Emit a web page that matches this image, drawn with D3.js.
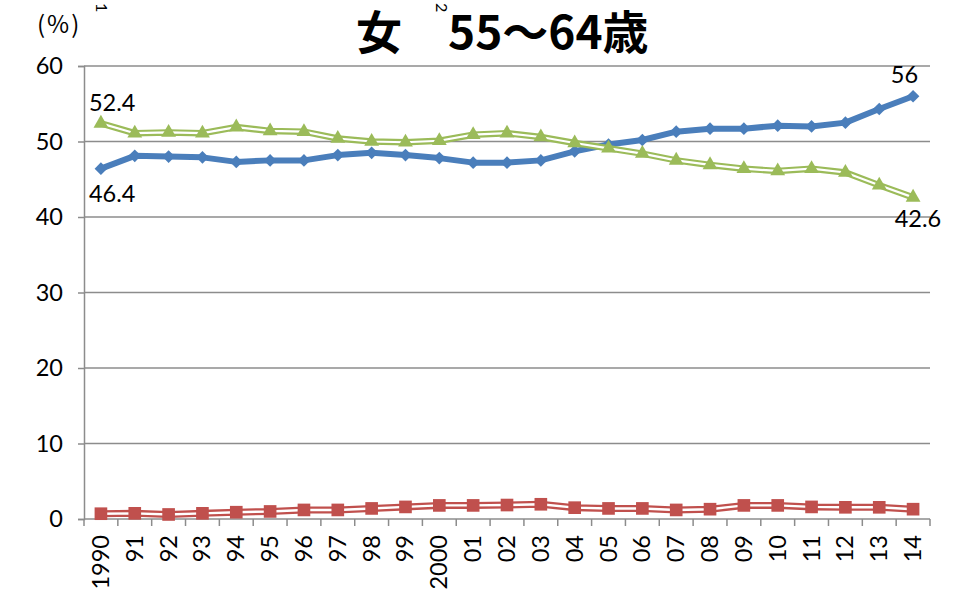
<!DOCTYPE html>
<html><head><meta charset="utf-8">
<script src="https://cdn.jsdelivr.net/npm/d3@7/dist/d3.min.js"></script>
<style>
html,body{margin:0;padding:0;background:#fff;}
svg{display:block;}
</style></head>
<body>
<svg id="chart" width="966" height="589"></svg>
<script>
const categories = ["1990","91","92","93","94","95","96","97","98","99","2000","01","02","03","04","05","06","07","08","09","10","11","12","13","14"];
const blueValues  = [46.4,48.1,48.0,47.9,47.3,47.5,47.5,48.2,48.5,48.2,47.8,47.2,47.2,47.5,48.7,49.6,50.2,51.3,51.7,51.7,52.1,52.0,52.5,54.3,56.0];
const greenValues = [52.4,51.1,51.2,51.1,51.9,51.4,51.3,50.4,50.0,49.9,50.1,50.9,51.1,50.6,49.8,49.1,48.4,47.5,46.9,46.4,46.1,46.4,45.9,44.2,42.6];
const redValues   = [0.7,0.75,0.6,0.75,0.9,1.0,1.2,1.2,1.4,1.6,1.8,1.8,1.85,1.95,1.5,1.4,1.4,1.2,1.3,1.8,1.8,1.6,1.55,1.55,1.3];
const yTicks = [0,10,20,30,40,50,60];
const titleText = "女　55～64歳";
const unitText = "(%)";

const svg = d3.select("#chart");
const L = 84, R = 930, T = 66, B = 519;
const x = d3.scaleBand().domain(categories).range([L, R]).paddingInner(0).paddingOuter(0);
const y = d3.scaleLinear().domain([0, 60]).range([B, T]);
const cx = d => x(d) + x.bandwidth() / 2;
const gridColor = "#8c8c8c";
const numFont = "Lato, 'Open Sans', sans-serif";
const fs = 23.5;

// gridlines
svg.append("g").selectAll("line").data(yTicks.filter(v => v > 0)).join("line")
  .attr("x1", L).attr("x2", R).attr("y1", d => y(d)).attr("y2", d => y(d))
  .attr("stroke", gridColor).attr("stroke-width", 1.5);

// y axis
const yAxis = svg.append("g").attr("transform", `translate(${L},0)`)
  .call(d3.axisLeft(y).tickValues(yTicks).tickSize(6).tickPadding(6));
yAxis.select(".domain").attr("stroke", gridColor).attr("stroke-width", 1.5);
yAxis.selectAll(".tick line").attr("stroke", gridColor).attr("stroke-width", 1.5);
yAxis.selectAll(".tick text").attr("font-family", numFont).attr("font-size", fs).attr("fill", "#000").attr("dx", "-9");

// x axis
const xg = svg.append("g").attr("transform", `translate(0,${B})`);
xg.append("line").attr("x1", L).attr("x2", R).attr("y1", 0).attr("y2", 0)
  .attr("stroke", gridColor).attr("stroke-width", 1.5);
const bounds = categories.map(d => x(d)).concat([R]);
xg.selectAll("line.tk").data(bounds).join("line").attr("class", "tk")
  .attr("x1", d => d).attr("x2", d => d).attr("y1", 0).attr("y2", 7)
  .attr("stroke", gridColor).attr("stroke-width", 1.5);
xg.selectAll("text").data(categories).join("text")
  .attr("transform", d => `translate(${cx(d) + 8},${16}) rotate(-90)`)
  .attr("text-anchor", "end")
  .attr("font-family", numFont).attr("font-size", fs).attr("fill", "#000")
  .text(d => d);

const line = d3.line().x((d, i) => cx(categories[i])).y(d => y(d));

// blue series
const blue = "#4a7ebb";
svg.append("path").datum(blueValues).attr("d", line).attr("fill", "none")
  .attr("stroke", blue).attr("stroke-width", 6).attr("stroke-linejoin", "round");
svg.append("g").selectAll("path").data(blueValues).join("path")
  .attr("d", d3.symbol().type(d3.symbolSquare).size(80))
  .attr("transform", (d, i) => `translate(${cx(categories[i])},${y(d)}) rotate(45)`)
  .attr("fill", blue);

// red series (double line)
const red = "#c0504d";
svg.append("path").datum(redValues).attr("d", line).attr("fill", "none")
  .attr("stroke", red).attr("stroke-width", 7);
svg.append("path").datum(redValues).attr("d", line).attr("fill", "none")
  .attr("stroke", "#fff").attr("stroke-width", 2.4);
svg.append("g").selectAll("path").data(redValues).join("path")
  .attr("d", d3.symbol().type(d3.symbolSquare).size(160))
  .attr("transform", (d, i) => `translate(${cx(categories[i])},${y(d)})`)
  .attr("fill", red);

// green series (double line)
const green = "#9bbb59";
svg.append("path").datum(greenValues).attr("d", line).attr("fill", "none")
  .attr("stroke", green).attr("stroke-width", 6.5);
svg.append("path").datum(greenValues).attr("d", line).attr("fill", "none")
  .attr("stroke", "#fff").attr("stroke-width", 2.2);
svg.append("g").selectAll("path").data(greenValues).join("path")
  .attr("d", d3.symbol().type(d3.symbolTriangle).size(95))
  .attr("transform", (d, i) => `translate(${cx(categories[i])},${y(d)})`)
  .attr("fill", green);

// data labels
const n = categories.length - 1;
const lab = (t, px, py, anchor) => svg.append("text").attr("x", px).attr("y", py)
  .attr("text-anchor", anchor).attr("font-family", numFont).attr("font-size", fs).attr("fill", "#000").text(t);
lab(greenValues[0], cx(categories[0]) - 12, y(greenValues[0]) - 12, "start");
lab(blueValues[0], cx(categories[0]) - 12, y(blueValues[0]) + 33, "start");
lab(blueValues[n], cx(categories[n]) + 5, y(blueValues[n]) - 13, "end");
lab(greenValues[n].toFixed(1), cx(categories[n]) + 28, y(greenValues[n]) + 30, "end");

// title & unit
svg.append("text").attr("x", 356).attr("y", 49)
  .attr("font-family", "'Noto Sans CJK JP', sans-serif").attr("font-weight", "bold")
  .attr("font-size", 46).attr("fill", "#000").text(titleText);
svg.append("text").attr("x", 37).attr("y", 33)
  .attr("font-family", "'Noto Sans CJK JP', sans-serif")
  .attr("font-size", 24).attr("letter-spacing", 2).attr("fill", "#000").text(unitText);
svg.append("text").attr("transform", "translate(96,3) rotate(90)")
  .attr("font-family", numFont).attr("font-size", 16).attr("fill", "#000").text("1");
svg.append("text").attr("transform", "translate(436,3) rotate(90)")
  .attr("font-family", numFont).attr("font-size", 16).attr("fill", "#000").text("2");
</script>
</body></html>
